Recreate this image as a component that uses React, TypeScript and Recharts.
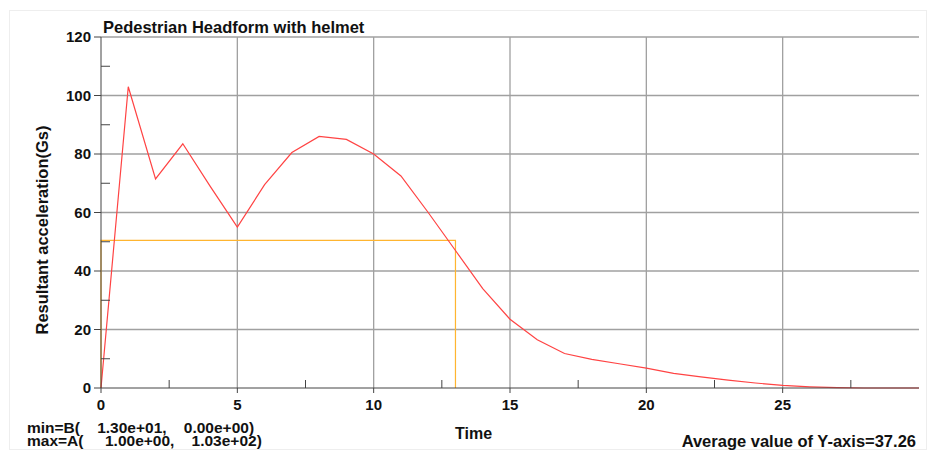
import React from "react";
import {
  LineChart,
  Line,
  XAxis,
  YAxis,
  CartesianGrid,
} from "recharts";

// time steps and resultant acceleration (Gs)
const times = [
  0, 1, 2, 3, 4, 5, 6, 7, 8, 9, 10, 11, 12, 13, 14, 15, 16, 17, 18, 19, 20,
  21, 22, 23, 24, 25, 26, 27, 28, 29, 30,
];
const accel = [
  0, 103, 71.5, 83.5, 69, 55, 69.5, 80.5, 86, 85, 80, 72.5, 60, 47, 34, 23.5,
  16.5, 11.8, 9.8, 8.3, 6.8, 5, 3.8, 2.7, 1.7, 0.9, 0.4, 0.1, 0, 0, 0,
];

// HIC window (orange box)
const windowT = [0, 0, 13, 13];
const windowV = [0, 50.5, 50.5, 0];

const xTicks = [0, 2.5, 5, 7.5, 10, 12.5, 15, 17.5, 20, 22.5, 25, 27.5];
const yTicks = [0, 10, 20, 30, 40, 50, 60, 70, 80, 90, 100, 110, 120];
const xGrid = [5, 10, 15, 20, 25];
const yGrid = [20, 40, 60, 80, 100, 120];

const curve = times.map((t, i) => ({ t, a: accel[i] }));
const box = windowT.map((t, i) => ({ t, v: windowV[i] }));

const FONT = '"Liberation Sans", Arial, sans-serif';
const AXIS = "#444";

const YTick = ({ x, y, payload }: any) => {
  const v = payload.value;
  if (v % 20 !== 0) {
    return <line x1={x} x2={x + 9} y1={y} y2={y} stroke={AXIS} />;
  }
  return (
    <g>
      <line x1={x - 7} x2={x} y1={y} y2={y} stroke={AXIS} />
      <text
        x={x - 10}
        y={y + 5}
        textAnchor="end"
        fontFamily={FONT}
        fontWeight="bold"
        fontSize={15}
        fill="#111"
      >
        {v}
      </text>
    </g>
  );
};

const XTick = ({ x, y, payload }: any) => {
  const v = payload.value;
  if (v % 5 !== 0) {
    return <line x1={x} x2={x} y1={y - 8} y2={y} stroke={AXIS} />;
  }
  return (
    <g>
      <line x1={x} x2={x} y1={y} y2={y + 5} stroke={AXIS} />
      <text
        x={x}
        y={y + 22}
        textAnchor="middle"
        fontFamily={FONT}
        fontWeight="bold"
        fontSize={15}
        fill="#111"
      >
        {v}
      </text>
    </g>
  );
};

const label: React.CSSProperties = {
  position: "absolute",
  fontFamily: FONT,
  fontWeight: "bold",
  color: "#111",
  whiteSpace: "pre",
  lineHeight: 1,
};

export default function App() {
  return (
    <div
      style={{
        position: "absolute",
        left: 0,
        top: 0,
        width: 928,
        height: 450,
        background: "#fff",
      }}
    >
      <div
        style={{
          position: "absolute",
          left: 9,
          top: 10,
          width: 916,
          height: 438,
          border: "1px solid #eeeeee",
        }}
      />
      <LineChart
        width={928}
        height={450}
        margin={{ top: 37, right: 9, bottom: 32, left: 41 }}
        style={{ position: "absolute", left: 0, top: 0 }}
      >
        <CartesianGrid
          stroke="#a0a0a0"
          strokeWidth={1.3}
          horizontalValues={yGrid}
          verticalValues={xGrid}
        />
        <XAxis
          dataKey="t"
          type="number"
          domain={[0, 30]}
          ticks={xTicks}
          interval={0}
          height={30}
          tickSize={0}
          tickMargin={0}
          tickLine={false}
          axisLine={{ stroke: AXIS }}
          tick={(p: any) => <XTick {...p} />}
          allowDuplicatedCategory={false}
        />
        <YAxis
          type="number"
          domain={[0, 120]}
          ticks={yTicks}
          interval={0}
          width={60}
          tickSize={0}
          tickMargin={0}
          tickLine={false}
          axisLine={{ stroke: AXIS }}
          tick={(p: any) => <YTick {...p} />}
        />
        <Line
          data={box}
          dataKey="v"
          type="linear"
          stroke="#ffb530"
          strokeWidth={1.2}
          dot={false}
          isAnimationActive={false}
        />
        <Line
          data={curve}
          dataKey="a"
          type="linear"
          stroke="#ff4343"
          strokeWidth={1.2}
          dot={false}
          isAnimationActive={false}
        />
      </LineChart>

      <div style={{ ...label, left: 103, top: 19, fontSize: 16.5 }}>
        Pedestrian Headform with helmet
      </div>
      <div
        style={{
          ...label,
          left: 42,
          top: 230,
          fontSize: 16.5,
          transform: "translate(-50%, -50%) rotate(-90deg)",
        }}
      >
        Resultant acceleration(Gs)
      </div>
      <div style={{ ...label, left: 455, top: 426, fontSize: 16 }}>Time</div>
      <div
        style={{ ...label, left: 27, top: 421, fontSize: 15.5, lineHeight: "13px" }}
      >
        {"min=B(    1.30e+01,    0.00e+00)\nmax=A(     1.00e+00,    1.03e+02)"}
      </div>
      <div style={{ ...label, right: 12, top: 433, fontSize: 16.5 }}>
        Average value of Y-axis=37.26
      </div>
    </div>
  );
}
